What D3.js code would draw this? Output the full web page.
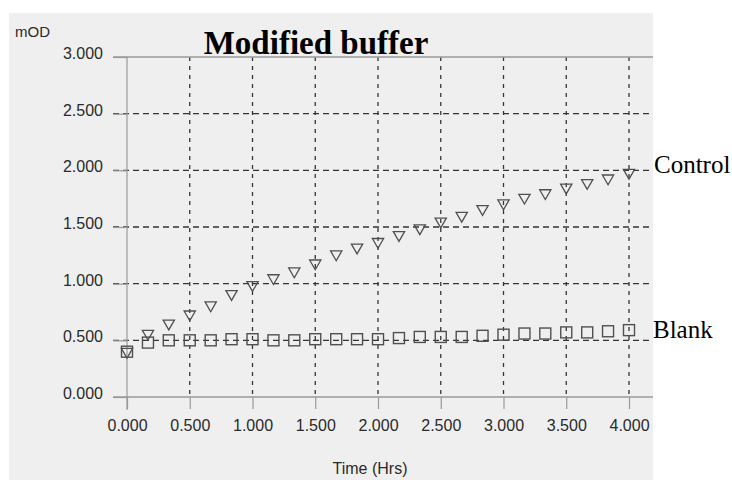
<!DOCTYPE html>
<html>
<head>
<meta charset="utf-8">
<script src="https://cdn.jsdelivr.net/npm/d3@7"></script>
<style>
  body { margin: 0; background: #ffffff; }
  svg { display: block; }
</style>
</head>
<body>
<div class="vis"></div>
<script>
// time points (hours), 10 min apart
var times = [0.000, 0.167, 0.333, 0.500, 0.667, 0.833, 1.000, 1.167, 1.333, 1.500, 1.667, 1.833,
             2.000, 2.167, 2.333, 2.500, 2.667, 2.833, 3.000, 3.167, 3.333, 3.500, 3.667, 3.833, 4.000];

var control = [0.40, 0.56, 0.65, 0.73, 0.81, 0.91, 0.99, 1.05, 1.11, 1.18, 1.26, 1.32,
               1.37, 1.43, 1.49, 1.55, 1.60, 1.66, 1.71, 1.76, 1.80, 1.85, 1.89, 1.93, 1.98];

var blank   = [0.40, 0.48, 0.50, 0.50, 0.50, 0.51, 0.51, 0.50, 0.50, 0.51, 0.51, 0.51,
               0.51, 0.52, 0.53, 0.53, 0.53, 0.54, 0.55, 0.56, 0.56, 0.57, 0.57, 0.58, 0.59];

var xTicks = [0, 0.5, 1, 1.5, 2, 2.5, 3, 3.5, 4];
var yTicks = [0, 0.5, 1, 1.5, 2, 2.5, 3];

var sansFont  = 'Liberation Sans, Arial, sans-serif';
var serifFont = 'Liberation Serif, Times New Roman, serif';

var svg = d3.select('div.vis').append('svg')
            .attr('width', 732)
            .attr('height', 480);

// scanned gray panel
svg.append('rect')
   .attr('x', 9).attr('y', 13)
   .attr('width', 644).attr('height', 467)
   .attr('fill', '#efefef');

var x = d3.scaleLinear().domain([0, 4]).range([127, 629]);
var y = d3.scaleLinear().domain([0, 3]).range([397, 57]);

var gridColor = '#353535';
var axisColor = '#9a9a9a';

// horizontal grid (dashed), except 0 and 3 which are solid
svg.append('g').selectAll('line')
   .data(yTicks.filter(function(d) { return d > 0 && d < 3; }))
   .enter().append('line')
      .attr('x1', 113).attr('x2', 653)
      .attr('y1', function(d) { return y(d); })
      .attr('y2', function(d) { return y(d); })
      .attr('stroke', gridColor)
      .attr('stroke-width', 1.3)
      .attr('stroke-dasharray', '6,4');

// vertical grid (dashed)
svg.append('g').selectAll('line')
   .data(xTicks.filter(function(d) { return d > 0; }))
   .enter().append('line')
      .attr('x1', function(d) { return x(d); })
      .attr('x2', function(d) { return x(d); })
      .attr('y1', y(3)).attr('y2', y(0))
      .attr('stroke', gridColor)
      .attr('stroke-width', 1.3)
      .attr('stroke-dasharray', '4,5');

// top & bottom solid lines
[0, 3].forEach(function(v) {
    svg.append('line')
       .attr('x1', 113).attr('x2', 653)
       .attr('y1', y(v)).attr('y2', y(v))
       .attr('stroke', axisColor).attr('stroke-width', 1.5);
});

// y axis
var yAxis = svg.append('g')
   .attr('transform', 'translate(127,0)')
   .call(d3.axisLeft(y).tickValues(yTicks).tickFormat(d3.format('.3f')).tickSize(14).tickPadding(10));
yAxis.select('.domain').remove();
yAxis.append('line')
   .attr('x1', 0).attr('x2', 0)
   .attr('y1', y(3)).attr('y2', 410)
   .attr('stroke', axisColor).attr('stroke-width', 1.2);
yAxis.selectAll('.tick line').attr('stroke', axisColor).attr('stroke-width', 1.2);
yAxis.selectAll('.tick text')
   .attr('dy', '0.1em')
   .style('font-family', sansFont)
   .style('font-size', '16px')
   .style('fill', '#2a2a2a');

// x axis
var xAxis = svg.append('g')
   .attr('transform', 'translate(0,' + y(0) + ')')
   .call(d3.axisBottom(x).tickValues(xTicks).tickFormat(d3.format('.3f')).tickSize(12).tickPadding(11));
xAxis.select('.domain').remove();
xAxis.selectAll('.tick line').attr('stroke', axisColor).attr('stroke-width', 1.2);
xAxis.selectAll('.tick text')
   .style('font-family', sansFont)
   .style('font-size', '16px')
   .style('fill', '#2a2a2a');

// axis labels
svg.append('text')
   .text('mOD')
   .attr('x', 15).attr('y', 37)
   .style('font-family', sansFont)
   .style('font-size', '15px')
   .style('fill', '#2a2a2a');

svg.append('text')
   .text('Time (Hrs)')
   .attr('x', 370).attr('y', 474)
   .attr('text-anchor', 'middle')
   .style('font-family', sansFont)
   .style('font-size', '16px')
   .style('fill', '#2a2a2a');

// title
svg.append('text')
   .text('Modified buffer')
   .attr('x', 316).attr('y', 54)
   .attr('text-anchor', 'middle')
   .style('font-family', serifFont)
   .style('font-weight', 'bold')
   .style('font-size', '33px')
   .style('fill', '#000');

var markerColor = '#505050';

// blank: squares
svg.append('g').selectAll('rect')
   .data(times.map(function(t, i) { return {t: t, v: blank[i]}; }))
   .enter().append('rect')
      .attr('x', function(d) { return x(d.t) - 5.5; })
      .attr('y', function(d) { return y(d.v) - 5.5; })
      .attr('width', 11).attr('height', 11)
      .attr('fill', 'none')
      .attr('stroke', markerColor)
      .attr('stroke-width', 1.4);

// control: downward triangles
var tri = d3.symbol().type(d3.symbolTriangle).size(55);
svg.append('g').selectAll('path')
   .data(times.map(function(t, i) { return {t: t, v: control[i]}; }))
   .enter().append('path')
      .attr('d', tri)
      .attr('transform', function(d) { return 'translate(' + x(d.t) + ',' + y(d.v) + ') rotate(180)'; })
      .attr('fill', 'none')
      .attr('stroke', markerColor)
      .attr('stroke-width', 1.3);

// series labels
svg.append('text')
   .text('Control')
   .attr('x', 654).attr('y', 173)
   .style('font-family', serifFont)
   .style('font-size', '25px')
   .style('fill', '#000');

svg.append('text')
   .text('Blank')
   .attr('x', 653).attr('y', 338)
   .style('font-family', serifFont)
   .style('font-size', '25px')
   .style('fill', '#000');
</script>
</body>
</html>
